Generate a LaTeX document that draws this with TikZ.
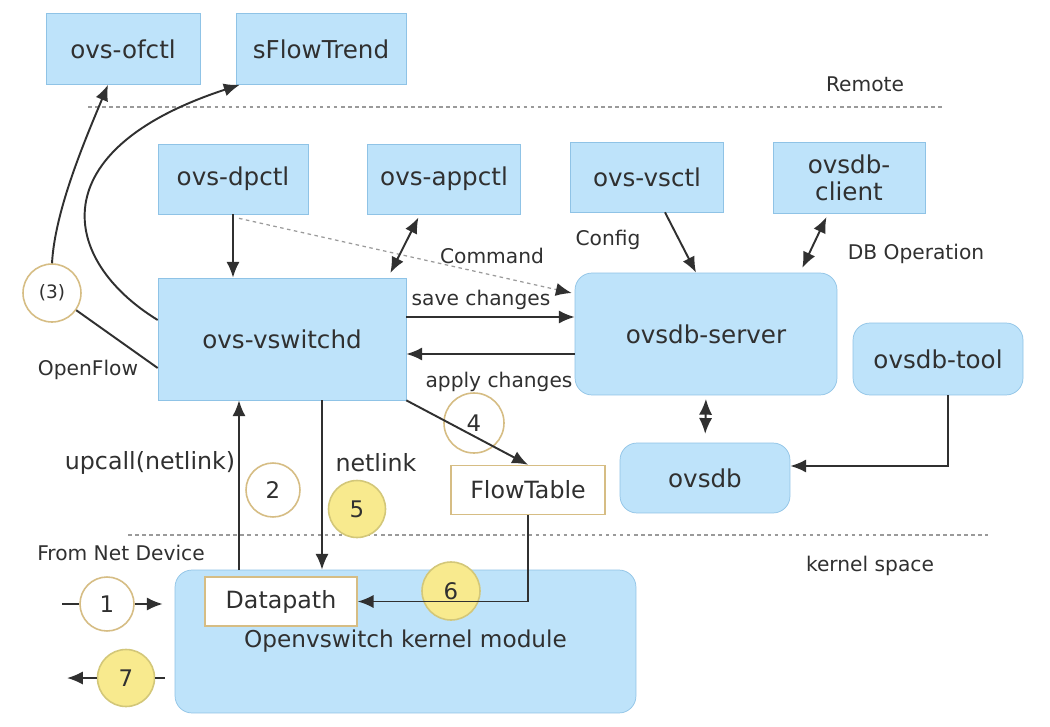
\documentclass[tikz,border=0pt]{standalone}
\usepackage{fontspec}
\setmainfont{DejaVu Sans}
\usetikzlibrary{arrows.meta,calc,positioning}
\definecolor{boxblue}{HTML}{BEE3FA}
\definecolor{boxedge}{HTML}{8FC3E6}
\definecolor{ink}{HTML}{303030}
\definecolor{tanedge}{HTML}{D6BD84}
\definecolor{yellowfill}{HTML}{F8EA8E}
\definecolor{sepgray}{HTML}{9A9A9A}
\tikzset{
  tool/.style={draw=boxedge, fill=boxblue, text=ink, inner sep=0pt, align=center,
    minimum height=1.42cm, font=\fontsize{14}{15.5}\selectfont},
  daemon/.style={tool, rounded corners=0.34cm},
  plain/.style={draw=tanedge, fill=white, text=ink, inner sep=0pt, line width=0.8pt,
    minimum height=0.98cm, font=\fontsize{13.5}{15}\selectfont},
  lbl/.style={text=ink, font=\fontsize{11.5}{13}\selectfont},
  biglbl/.style={text=ink, font=\fontsize{13.5}{15}\selectfont},
  stepnum/.style={circle, draw=tanedge, fill=white, text=ink, minimum size=1.08cm,
    line width=0.9pt, inner sep=0pt, font=\fontsize{13}{14}\selectfont},
  hot/.style={stepnum, fill=yellowfill, draw=yellowfill!85!black},
  arr/.style={-{Latex[length=9pt,width=7.5pt]}, draw=ink, line width=1.1pt},
  biarr/.style={{Latex[length=9pt,width=7.5pt]}-{Latex[length=9pt,width=7.5pt]}, draw=ink, line width=1.1pt},
  sep/.style={draw=sepgray, dash pattern=on 2pt off 2pt, line width=0.6pt},
}

\begin{document}
\begin{tikzpicture}[x=0.02cm, y=-0.02cm]
  \useasboundingbox[fill=white] (0,0) rectangle (1050,726);
  % remote
  \node[tool, minimum width=3.08cm] (ofctl) at (123,49) {ovs-ofctl};
  \node[tool, minimum width=3.4cm] (sflow) at (321,49) {sFlowTrend};
  \node[lbl] (remote) at (865,84) {Remote};
  \draw[sep] (88,107) -- (945,107);
  % user space tools
  \node[tool, minimum width=3cm, minimum height=1.4cm] (dpctl) at (233,179) {ovs-dpctl};
  \node[tool, minimum width=3.06cm, minimum height=1.4cm] (appctl) at (444,179) {ovs-appctl};
  \node[tool, minimum width=3.06cm, minimum height=1.4cm] (vsctl) at (647,177) {ovs-vsctl};
  \node[tool, minimum width=3.04cm, minimum height=1.42cm] (dbclient) at (849,178) {ovsdb-\\client};
  % daemons
  \node[tool, minimum width=4.96cm, minimum height=2.44cm] (vswitchd) at (282,339) {ovs-vswitchd};
  \node[daemon, minimum width=5.24cm, minimum height=2.44cm] (dbserver) at (706,334) {ovsdb-server};
  \node[daemon, minimum width=3.4cm, minimum height=1.44cm] (dbtool) at (938,359) {ovsdb-tool};
  \node[daemon, minimum width=3.4cm, minimum height=1.4cm] (ovsdb) at (705,478) {ovsdb};
  \node[plain, minimum width=3.08cm] (flowtable) at (528,490) {FlowTable};
  % kernel
  \draw[sep] (128,535) -- (988,535);
  \node[lbl] (kspace) at (870,566) {kernel space};
  \node[daemon, minimum width=9.22cm, minimum height=2.86cm,
    font=\fontsize{13.2}{15}\selectfont] (kmod) at (405.5,641.5) {Openvswitch kernel module};
  \node[plain, minimum width=3.04cm] (datapath) at (281,601.5) {Datapath};
  % labels
  \node[lbl] (cmd) at (492,256) {Command};
  \node[lbl] (cfg) at (608,240) {Config};
  \node[lbl] (dbop) at (916,254) {DB Operation};
  \node[lbl] (save) at (481,300) {save changes};
  \node[lbl] (apply) at (499,382) {apply changes};
  \node[lbl] (of) at (88,370) {OpenFlow};
  \node[biglbl] (upl) at (150,463) {upcall(netlink)};
  \node[biglbl] (nll) at (376,463) {netlink};
  \node[lbl] (fromdev) at (121,553) {From Net Device};
  % steps
  \node[stepnum] (c1) at (107,604) {1};
  \node[stepnum] (c2) at (273,490) {2};
  \node[stepnum, minimum size=1.16cm, font=\fontsize{10.5}{12}\selectfont] (c3) at (52,293) {(3)};
  \node[stepnum, fill=none, minimum size=1.2cm] (c4) at (474,423) {4};
  \node[hot, minimum size=1.14cm] (c5) at (357,509) {5};
  \node[hot, minimum size=1.16cm] (c6) at (451,591) {6};
  \node[hot, minimum size=1.14cm] (c7) at (126,678) {7};
  % connectors
  \draw[arr] (dpctl.south) -- (dpctl.south |- vswitchd.north);
  \draw[-{Latex[length=9pt,width=7.5pt,color=ink]}, draw=sepgray, dash pattern=on 2pt off 2pt, line width=0.7pt]
    ($(dpctl.south)+(6,4)$) -- ($(dbserver.west)+(-3,-41)$);
  \draw[biarr, shorten <=2pt, shorten >=3pt] ($(appctl.south)+(-24,0)$) -- ($(vswitchd.north)+(106,0)$);
  \draw[arr] ($(vsctl.south)+(18,0)$) -- ($(dbserver.north)+(-10,0)$);
  \draw[biarr, shorten <=2pt, shorten >=3pt] ($(dbclient.south)+(-21,0)$) -- ($(dbserver.north)+(94,0)$);
  \coordinate (sv) at ($(vswitchd.east)+(0,-22)$);
  \coordinate (ap) at ($(vswitchd.east)+(0,15)$);
  \draw[arr] (sv) -- (sv -| dbserver.west);
  \draw[arr] (ap -| dbserver.west) -- (ap);
  \draw[biarr, shorten <=2pt, shorten >=5pt] (dbserver.south) -- (ovsdb.north);
  \draw[arr] ($(dbtool.south)+(10,0)$) |- ($(ovsdb.east)+(0,-12)$);
  \draw[arr] (vswitchd.south east) -- (flowtable.north);
  \draw[arr] (flowtable.south) |- (datapath.east);
  \coordinate (up) at (239,0);
  \coordinate (dn) at (322,0);
  \draw[arr] (up |- kmod.north) -- (up |- vswitchd.south);
  \draw[arr] (dn |- vswitchd.south) -- (dn |- kmod.north);
  \coordinate (netin) at (62,604);
  \coordinate (netout) at (67,678);
  \draw[ink, line width=1.1pt] (netin) -- (c1);
  \draw[arr, shorten >=0.24cm] (c1) -- (c1 -| kmod.west);
  \draw[ink, line width=1.1pt] ([xshift=-0.2cm]c7 -| kmod.west) -- (c7);
  \draw[arr] (c7) -- (netout);
  % openflow and sflow
  \draw[ink, line width=1.1pt] ([yshift=-0.58cm]vswitchd.west) -- (c3);
  \draw[arr] (c3.north) .. controls (55,210) and (85,140) .. ($(ofctl.south)+(-15,0)$);
  \draw[arr] ([yshift=0.38cm]vswitchd.west) .. controls (60,260) and (40,150) .. ($(sflow.south west)+(4,0)$);
\end{tikzpicture}
\end{document}
